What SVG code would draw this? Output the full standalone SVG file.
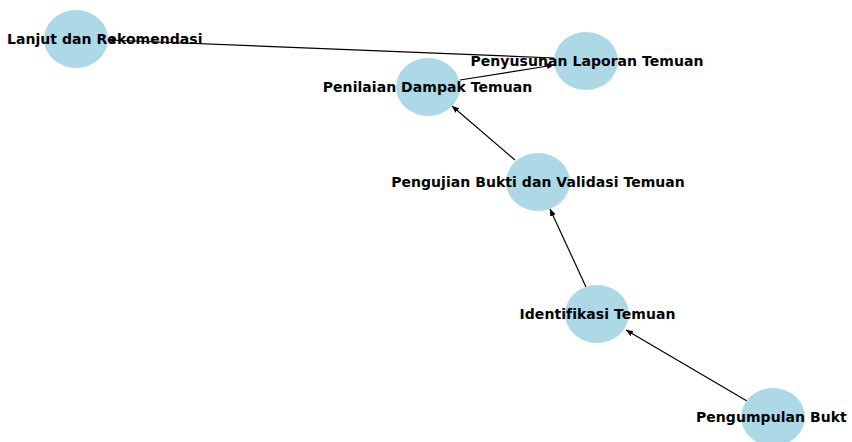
<svg xmlns="http://www.w3.org/2000/svg" width="852" height="442" viewBox="0 0 852 442">
<style>
.node{fill:#add8e6;stroke:none}
.lbl{font-family:"DejaVu Sans",sans-serif;font-weight:bold;font-size:14px;letter-spacing:0.05px;fill:#000}
.edge{stroke:#000;stroke-width:1.2;fill:none}
</style>
<defs>
<marker id="arr" markerUnits="userSpaceOnUse" viewBox="0 0 7 6" markerWidth="7" markerHeight="6" refX="7" refY="3" orient="auto">
<path d="M0,0 L7,3 L0,6 z" fill="#000"/>
</marker>
</defs>
<rect width="852" height="442" fill="#fff"/>
<g id="edges">
<line class="edge" x1="747" y1="401" x2="626" y2="330" marker-end="url(#arr)"/>
<line class="edge" x1="586" y1="287" x2="550" y2="209" marker-end="url(#arr)"/>
<line class="edge" x1="515" y1="160" x2="452" y2="106" marker-end="url(#arr)"/>
<line class="edge" x1="460" y1="80" x2="554" y2="65" marker-end="url(#arr)"/>
<line class="edge" x1="554" y1="58" x2="108" y2="40" marker-end="url(#arr)"/>
</g>
<g id="node-lanjut">
<ellipse class="node" cx="76" cy="39" rx="32" ry="29"/>
<text class="lbl" x="7" y="43.5">Lanjut dan Rekomendasi</text>
</g>
<g id="node-penyusunan">
<ellipse class="node" cx="586" cy="61" rx="32" ry="29"/>
<text class="lbl" x="587" y="65.5" text-anchor="middle">Penyusunan Laporan Temuan</text>
</g>
<g id="node-penilaian">
<ellipse class="node" cx="428" cy="87" rx="32" ry="29"/>
<text class="lbl" x="427.5" y="91.5" text-anchor="middle">Penilaian Dampak Temuan</text>
</g>
<g id="node-pengujian">
<ellipse class="node" cx="538" cy="182" rx="32" ry="29"/>
<text class="lbl" x="538" y="186.5" text-anchor="middle">Pengujian Bukti dan Validasi Temuan</text>
</g>
<g id="node-identifikasi">
<ellipse class="node" cx="597" cy="314" rx="32" ry="29"/>
<text class="lbl" x="597.5" y="318.5" text-anchor="middle">Identifikasi Temuan</text>
</g>
<g id="node-pengumpulan">
<ellipse class="node" cx="773" cy="417" rx="32" ry="29"/>
<text class="lbl" x="696" y="421.5">Pengumpulan Bukt</text>
</g>
</svg>
